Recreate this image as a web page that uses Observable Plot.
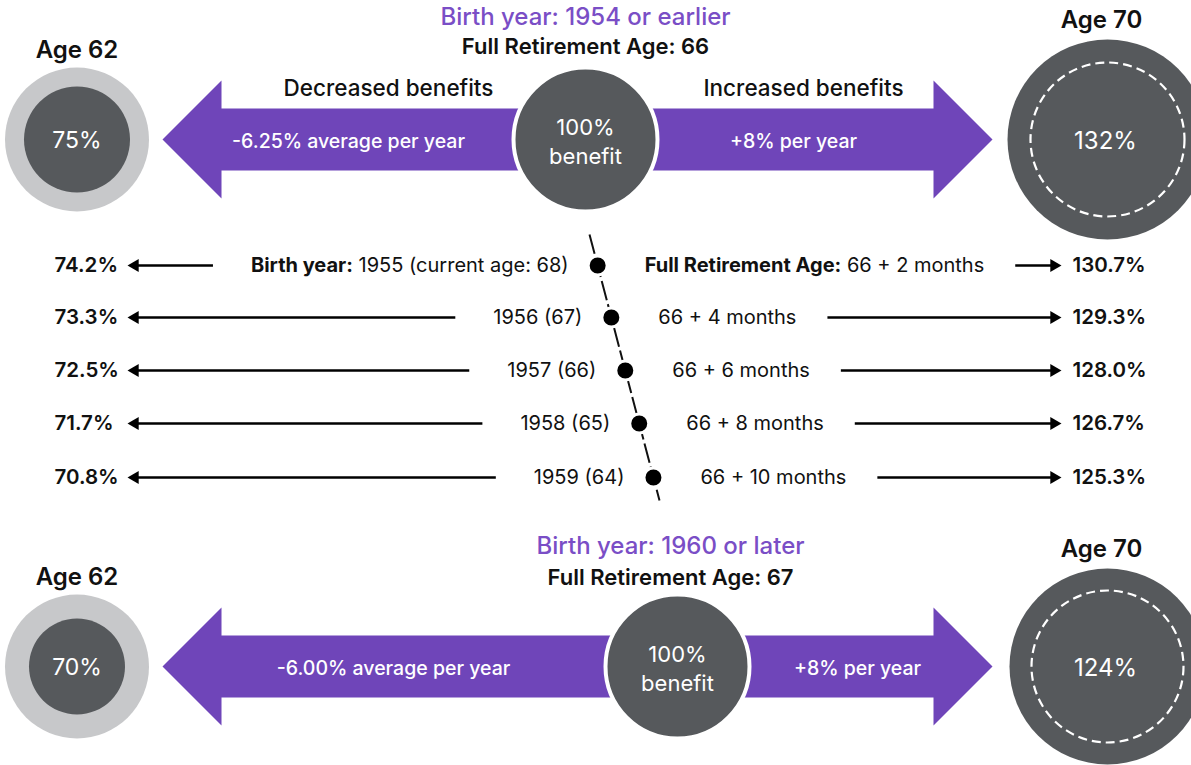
<!DOCTYPE html>
<html><head><meta charset="utf-8">
<script src="https://cdn.jsdelivr.net/npm/d3@7"></script>
<script src="https://cdn.jsdelivr.net/npm/@observablehq/plot@0.6"></script>
<style>body{margin:0;background:#fff;} svg{display:block;}</style>
</head><body><div id="chart"></div>
<script>
// ---------------- data ----------------
const birthGroups = ["1954 or earlier", "1960 or later"];
const fullRetirementAges = [66, 67];
const earlyAge = 62, lateAge = 70;
const age62Benefit = [75, 70];
const age70Benefit = [132, 124];
const decreaseRates = ["-6.25%", "-6.00%"];
const increaseRates = ["+8%", "+8%"];
const birthYears = [1955, 1956, 1957, 1958, 1959];
const currentAges = [68, 67, 66, 65, 64];
const extraMonths = [2, 4, 6, 8, 10];
const rowAge62 = [74.2, 73.3, 72.5, 71.7, 70.8];
const rowAge70 = [130.7, 129.3, 128.0, 126.7, 125.3];

// ---------------- layout / style ----------------
const W = 1191, H = 765;
const PURPLE = "#6f45b9", TITLE_PURPLE = "#7a4ec6", DARK = "#56595c", LIGHT = "#c7c8ca";
const FONT = "Inter, 'Noto Sans', sans-serif";
const secY = [139, 666];
const fraX = [585, 677];
const titleX = [585, 670];
const titleY = [17, 546];
const fraLabelY = [46, 577];
const age62LabelY = [50, 577];
const age70LabelY = [20, 549];
const c62X = 76.5, c70X = 1107;
const outer62R = 72, fraR = 72;
const inner62R = [53, 48];
const r70 = [100, 98], r70Dash = [77, 76];
const decTextX = [348, 393], incTextX = [793, 857];
const headBaseL = 221, tipL = 162, headBaseR = 933, tipR = 992, shaftH = 31, headH = 59;
const rowY = [265, 317, 370, 423, 477];
const slant = {x1: 589, y1: 234, x2: 659, y2: 500};
const xOnSlant = y => slant.x1 + (y - slant.y1) * (slant.x2 - slant.x1) / (slant.y2 - slant.y1);
const ROW_FS = 20;
const BOLD_W = 700;
const BOLD_PREFIXES = ["Birth year:", "Full Retirement Age:"];

const ctx = document.createElement("canvas").getContext("2d");
function splitBold(str) {
  for (const p of BOLD_PREFIXES) if (str.startsWith(p)) return [p, str.slice(p.length)];
  return ["", str];
}
function measure(str) {
  const [b, r] = splitBold(str);
  ctx.font = `${BOLD_W} ${ROW_FS}px ${FONT}`;
  let w = b ? ctx.measureText(b).width : 0;
  ctx.font = `400 ${ROW_FS}px ${FONT}`;
  return w + ctx.measureText(r).width;
}

const sections = birthGroups.map((g, i) => ({
  i, group: g, fra: fullRetirementAges[i], p62: age62Benefit[i], p70: age70Benefit[i],
  dec: decreaseRates[i], inc: increaseRates[i], y: secY[i], fx: fraX[i]
}));

const blockPts = sections.flatMap(s => {
  const y = s.y;
  const L = [[s.fx, y - shaftH], [headBaseL, y - shaftH], [headBaseL, y - headH], [tipL, y], [headBaseL, y + headH], [headBaseL, y + shaftH], [s.fx, y + shaftH]];
  const R = [[s.fx, y - shaftH], [headBaseR, y - shaftH], [headBaseR, y - headH], [tipR, y], [headBaseR, y + headH], [headBaseR, y + shaftH], [s.fx, y + shaftH]];
  return [...L.map(p => ({id: "L" + s.i, x: p[0], y: p[1]})), ...R.map(p => ({id: "R" + s.i, x: p[0], y: p[1]}))];
});

const TRI_R = 4.8;
const triHalf = Math.sqrt(Math.PI * TRI_R * TRI_R / (3 * Math.sqrt(3)));
const leftTip = 127, rightTip = 1061;

const rows = birthYears.map((b, j) => {
  const y = rowY[j], dx = xOnSlant(y);
  const left = j === 0 ? `Birth year: ${b} (current age: ${currentAges[j]})` : `${b} (${currentAges[j]})`;
  const right = j === 0 ? `Full Retirement Age: ${fullRetirementAges[0]} + ${extraMonths[j]} months` : `${fullRetirementAges[0]} + ${extraMonths[j]} months`;
  const leftEnd = dx - 29, rightStart = dx + 47;
  const lTail = leftEnd - measure(left) - 38;
  const rTail = rightStart + measure(right) + 31;
  return {j, y, dx, left, right, leftEnd, rightStart, lTail, rTail,
    p62: rowAge62[j], p70: rowAge70[j]};
});

const txt = {fontFamily: FONT};

const chart = Plot.plot({
  width: W, height: H, margin: 0,
  x: {domain: [0, W], range: [0, W], axis: null},
  y: {domain: [0, H], range: [0, H], axis: null},
  r: {type: "identity"},
  style: {fontFamily: FONT, background: "white", overflow: "hidden"},
  marks: [
    // block arrows
    Plot.line(blockPts, {x: "x", y: "y", z: "id", fill: PURPLE, stroke: "none", curve: "linear-closed"}),
    // age 62 circles
    Plot.dot(sections, {x: () => c62X, y: "y", r: () => outer62R, fill: LIGHT}),
    Plot.dot(sections, {x: () => c62X, y: "y", r: d => inner62R[d.i], fill: DARK}),
    // FRA circles
    Plot.dot(sections, {x: "fx", y: "y", r: () => fraR, fill: DARK, stroke: "white", strokeWidth: 4}),
    // age 70 circles
    Plot.dot(sections, {x: () => c70X, y: "y", r: d => r70[d.i], fill: DARK}),
    Plot.dot(sections, {x: () => c70X, y: "y", r: d => r70Dash[d.i], fill: "none", stroke: "white", strokeWidth: 2.2, strokeDasharray: "9,5"}),
    // titles
    Plot.text(sections, {...txt, x: d => titleX[d.i], y: d => titleY[d.i], text: d => `Birth year: ${d.group}`, fill: TITLE_PURPLE, fontSize: 24, fontWeight: 500}),
    Plot.text(sections, {...txt, x: d => titleX[d.i], y: d => fraLabelY[d.i], text: d => `Full Retirement Age: ${d.fra}`, fill: "#111", fontSize: 22, fontWeight: 600}),
    Plot.text(sections, {...txt, x: () => c62X, y: d => age62LabelY[d.i], text: () => `Age ${earlyAge}`, fill: "#111", fontSize: 24, fontWeight: 600}),
    Plot.text(sections, {...txt, x: () => 1101, y: d => age70LabelY[d.i], text: () => `Age ${lateAge}`, fill: "#111", fontSize: 24, fontWeight: 600}),
    Plot.text(sections, {...txt, x: () => c62X, y: d => d.y + 1, text: d => `${d.p62}%`, fill: "white", fontSize: 23, fontWeight: 400}),
    Plot.text(sections, {...txt, x: () => 1105, y: d => d.y + 2, text: d => `${d.p70}%`, fill: "white", fontSize: 24, fontWeight: 400}),
    Plot.text(sections, {...txt, x: "fx", y: d => d.y + 1, text: () => "100%\nbenefit", fill: "white", fontSize: 22, fontWeight: 400, lineHeight: 1.3}),
    Plot.text(sections, {...txt, x: d => decTextX[d.i], y: d => d.y + 2, text: d => `${d.dec} average per year`, fill: "white", fontSize: 19.5, fontWeight: 500}),
    Plot.text(sections, {...txt, x: d => incTextX[d.i], y: d => d.y + 2, text: d => `${d.inc} per year`, fill: "white", fontSize: 19.5, fontWeight: 500}),
    Plot.text([sections[0]], {...txt, x: () => 388, y: () => 88, text: () => "Decreased benefits", fill: "#111", fontSize: 22.5, fontWeight: 500}),
    Plot.text([sections[0]], {...txt, x: () => 803, y: () => 88, text: () => "Increased benefits", fill: "#111", fontSize: 22.5, fontWeight: 500}),
    // slanted dashed timeline
    Plot.link([slant], {x1: "x1", y1: "y1", x2: "x2", y2: "y2", stroke: "#111", strokeWidth: 2, strokeDasharray: "20,4"}),
    Plot.dot(rows, {x: "dx", y: "y", r: () => 9.5, fill: "#000", stroke: "white", strokeWidth: 3}),
    // row arrows
    Plot.link(rows, {x1: "lTail", x2: () => leftTip + 2 * triHalf, y1: "y", y2: "y", stroke: "#000", strokeWidth: 2.6}),
    Plot.dot(rows, {x: () => leftTip + 2 * triHalf, y: "y", r: () => TRI_R, symbol: "triangle", rotate: -90, fill: "#000", stroke: "none"}),
    Plot.link(rows, {x1: "rTail", x2: () => rightTip - 2 * triHalf, y1: "y", y2: "y", stroke: "#000", strokeWidth: 2.6}),
    Plot.dot(rows, {x: () => rightTip - 2 * triHalf, y: "y", r: () => TRI_R, symbol: "triangle", rotate: 90, fill: "#000", stroke: "none"}),
    // row labels
    Plot.text(rows, {...txt, x: "leftEnd", y: "y", text: "left", textAnchor: "end", fill: "#111", fontSize: ROW_FS, fontWeight: 400}),
    Plot.text(rows, {...txt, x: "rightStart", y: "y", text: "right", textAnchor: "start", fill: "#111", fontSize: ROW_FS, fontWeight: 400}),
    Plot.text(rows, {...txt, x: () => 54, y: "y", text: d => `${d.p62.toFixed(1)}%`, textAnchor: "start", fill: "#111", fontSize: 20.5, fontWeight: 600}),
    Plot.text(rows, {...txt, x: () => 1072, y: "y", text: d => `${d.p70.toFixed(1)}%`, textAnchor: "start", fill: "#111", fontSize: 20.5, fontWeight: 600})
  ]
});

// bold prefixes inside the row labels
const NS = "http://www.w3.org/2000/svg";
const rowLabelSet = new Set(rows.flatMap(r => [r.left, r.right]));
chart.querySelectorAll("text").forEach(t => {
  const s = t.textContent;
  if (!rowLabelSet.has(s)) return;
  const [b, r] = splitBold(s);
  if (!b) return;
  while (t.firstChild) t.removeChild(t.firstChild);
  const tb = document.createElementNS(NS, "tspan");
  tb.setAttribute("font-weight", String(BOLD_W));
  tb.textContent = b;
  t.appendChild(tb);
  t.appendChild(document.createTextNode(r));
});
document.getElementById("chart").append(chart);
</script>
</body></html>
